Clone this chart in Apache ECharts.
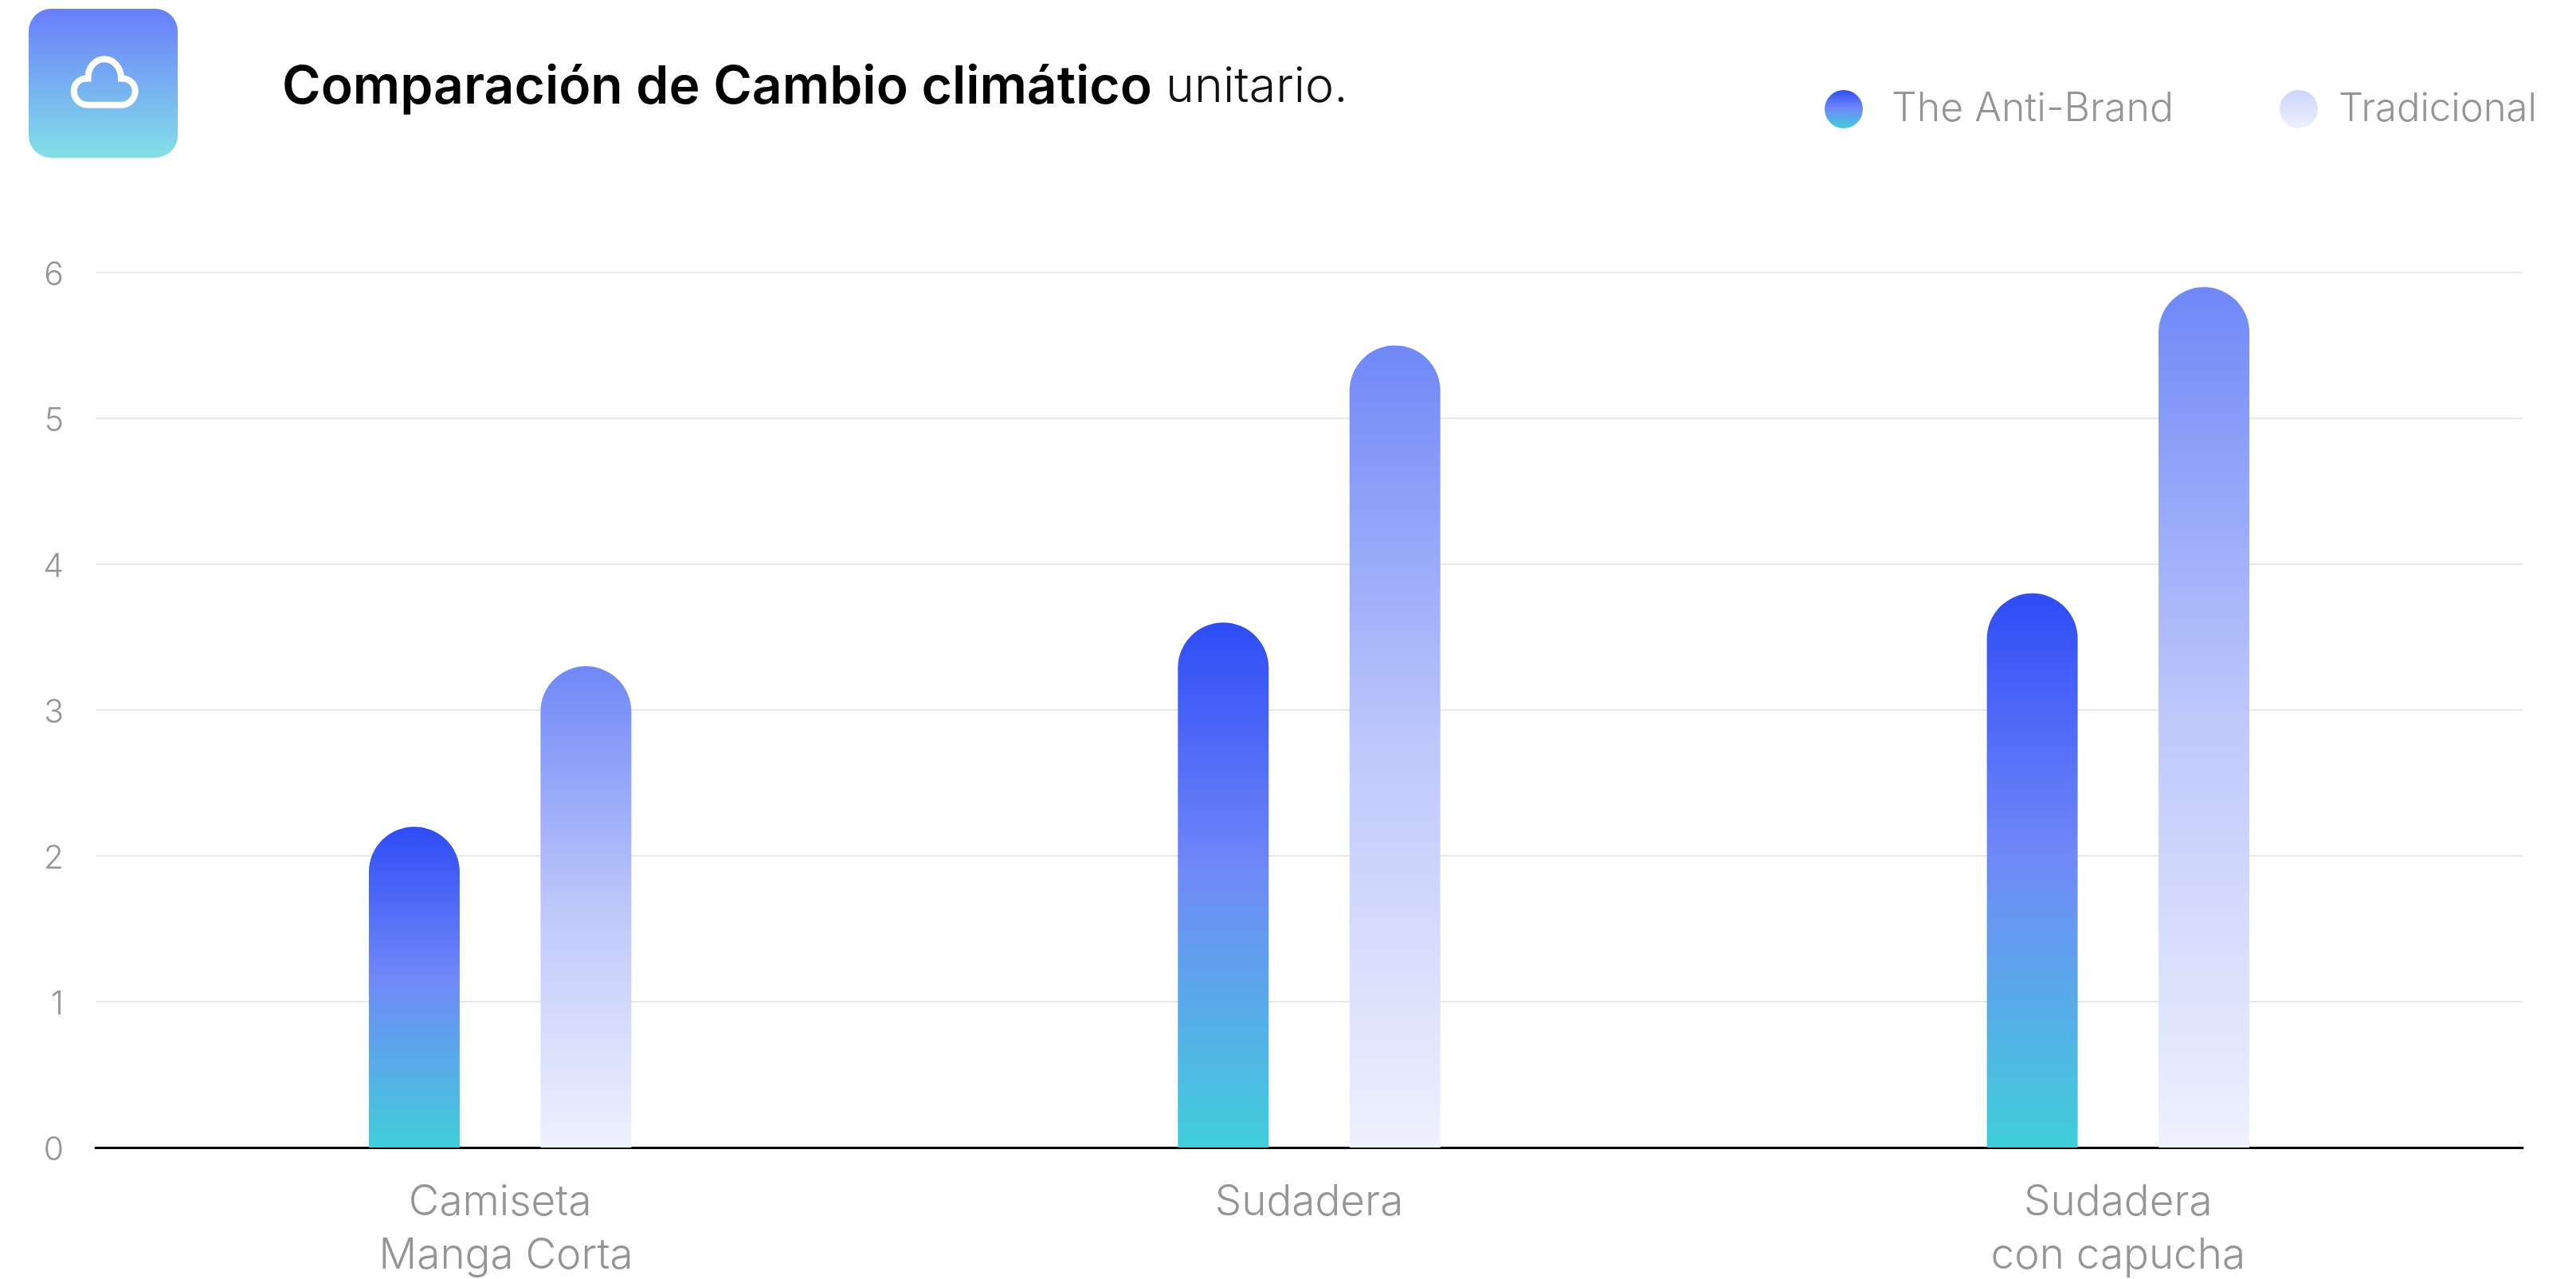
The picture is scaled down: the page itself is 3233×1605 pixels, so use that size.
<!DOCTYPE html>
<html>
<head>
<meta charset="utf-8">
<title>Comparación de Cambio climático unitario</title>
<script src="https://cdn.jsdelivr.net/npm/echarts@6/dist/echarts.min.js"></script>
<style>
  html, body { margin: 0; padding: 0; background: #fff; }
  #chart { width: 3233px; height: 1605px; }
</style>
</head>
<body>
<div id="chart"></div>
<script>
const categories = ['Camiseta\n Manga Corta', 'Sudadera', 'Sudadera\ncon capucha'];
const antiBrand = [2.2, 3.6, 3.8];
const tradicional = [3.3, 5.5, 5.9];
const yTicks = [0, 1, 2, 3, 4, 5, 6];

const FONT = 'Inter, "Liberation Sans", sans-serif';
const GREY = '#959595';

const vertical = (stops) => new echarts.graphic.LinearGradient(0, 0, 0, 1,
  stops.map(([offset, color]) => ({ offset, color })));

const antiColor = () => vertical([[0, '#2e4cf6'], [0.47, '#7088f8'], [1, '#40ceda']]);
const tradColor = () => vertical([[0, '#6f88f7'], [0.5, '#bec8fb'], [1, '#eff1fd']]);

// cloud icon in the header badge
const cloudPath = 'M111 131.7 H152 C162 131.7 169.7 124 169.7 114 C169.7 105 162 98 152 98.5 '
  + 'C152 85 143 74.3 131 74.3 C119 74.3 110 85 110.5 98.5 C100 98 92.7 105 92.7 114 '
  + 'C92.7 124 100 131.7 111 131.7 Z';
echarts.graphic.registerShape('cloud', echarts.graphic.extendPath(cloudPath));

const chart = echarts.init(document.getElementById('chart'), null, { renderer: 'canvas' });

chart.setOption({
  animation: false,
  backgroundColor: '#fff',
  title: {
    left: 349,
    top: 72,
    text: '{b|Comparación de Cambio climático}{l| unitario.}',
    textStyle: {
      rich: {
        b: { fontFamily: FONT, fontSize: 66, fontWeight: 600, color: '#000' },
        l: { fontFamily: FONT, fontSize: 61, fontWeight: 300, color: '#111' },
      },
    },
  },
  legend: {
    left: 2285,
    top: 107,
    icon: 'circle',
    itemWidth: 48,
    itemHeight: 48,
    itemGap: 133,
    selectedMode: false,
    textStyle: { fontFamily: FONT, fontSize: 50, fontWeight: 300, color: GREY, padding: [0, 0, 0, 31] },
    data: [
      { name: 'The Anti-Brand' },
      {
        name: 'Tradicional',
        itemStyle: { color: vertical([[0, '#ccd4fc'], [1, '#eff1fd']]) },
        textStyle: { fontSize: 49, padding: [0, 0, 0, 21] },
      },
    ],
  },
  grid: { left: 120, right: 67, top: 342, bottom: 165, outerBoundsMode: 'none' },
  xAxis: {
    type: 'category',
    data: categories,
    axisTick: { show: false },
    axisLine: { lineStyle: { color: '#000', width: 3 } },
    axisLabel: {
      margin: 36,
      fontFamily: FONT,
      fontSize: 53,
      fontWeight: 300,
      lineHeight: 67,
      color: GREY,
    },
  },
  yAxis: {
    type: 'value',
    min: yTicks[0],
    max: yTicks[yTicks.length - 1],
    interval: 1,
    axisLine: { show: false },
    axisTick: { show: false },
    splitLine: { lineStyle: { color: '#e8e8e8', width: 2 } },
    axisLabel: {
      margin: 40,
      formatter: '{n|{value}}',
      rich: {
        n: { fontFamily: FONT, fontSize: 41, fontWeight: 300, color: GREY, padding: [8, 0, 0, 0] },
      },
    },
  },
  series: [
    {
      name: 'The Anti-Brand',
      type: 'bar',
      data: antiBrand,
      barWidth: 114,
      barGap: '89%',
      itemStyle: { color: antiColor(), borderRadius: [57, 57, 0, 0] },
    },
    {
      name: 'Tradicional',
      type: 'bar',
      data: tradicional,
      barWidth: 114,
      itemStyle: { color: tradColor(), borderRadius: [57, 57, 0, 0] },
    },
  ],
  graphic: [
    {
      type: 'rect',
      shape: { x: 36, y: 11, width: 187, height: 187, r: 28 },
      style: { fill: vertical([[0, '#6a7dfb'], [1, '#82e0e8']]) },
    },
    {
      type: 'cloud',
      style: { fill: 'none', stroke: '#fff', lineWidth: 8 },
    },
  ],
});
</script>
</body>
</html>
